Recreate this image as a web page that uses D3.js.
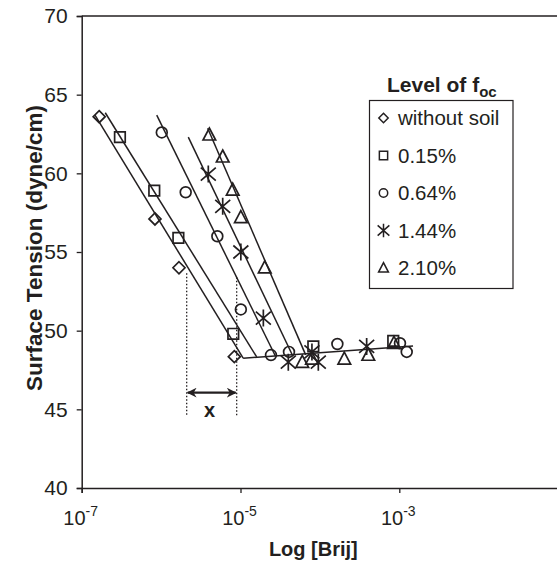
<!DOCTYPE html>
<html><head><meta charset="utf-8">
<script src="https://cdn.jsdelivr.net/npm/d3@7"></script>
<style>
html,body{margin:0;padding:0;background:#fff;}
svg{display:block;font-family:"Liberation Sans",Arial,sans-serif;}
</style></head>
<body>
<svg id="chart" width="557" height="565"></svg>
<script>
// ---- data (concentration [Brij], surface tension dyne/cm) ----
const seriesNames = ["without soil", "0.15%", "0.64%", "1.44%", "2.10%"];
const seriesShapes = ["diamond", "square", "circle", "star", "triangle"];

const noSoilX = [1.66e-7, 8.37e-7, 1.68e-6, 8.36e-6];
const noSoilY = [63.6, 57.1, 54.0, 48.35];

const oc015X = [3.03e-7, 8.20e-7, 1.65e-6, 8.11e-6, 8.26e-5, 8.39e-4];
const oc015Y = [62.3, 58.9, 55.9, 49.8, 49.0, 49.35];

const oc064X = [1.02e-6, 2.04e-6, 5.11e-6, 1.01e-5, 2.42e-5, 4.08e-5, 1.66e-4, 1.02e-3, 1.24e-3];
const oc064Y = [62.6, 58.8, 56.0, 51.35, 48.45, 48.65, 49.15, 49.2, 48.65];

const oc144X = [3.93e-6, 5.97e-6, 1.01e-5, 1.94e-5, 4.00e-5, 7.94e-5, 9.55e-5, 3.88e-4];
const oc144Y = [59.95, 57.9, 55.0, 50.8, 48.0, 48.65, 48.0, 49.0];

const oc210X = [4.05e-6, 5.97e-6, 7.98e-6, 1.01e-5, 2.02e-5, 6.00e-5, 7.94e-5, 2.03e-4, 4.07e-4, 8.57e-4];
const oc210Y = [62.45, 61.05, 58.95, 57.2, 54.0, 48.0, 48.2, 48.2, 48.45, 49.2];

// fitted trend lines: [x1, y1, x2, y2]
const fitNoSoil = [1.47e-7, 63.7, 1.08e-5, 48.25];
const fit015    = [1.98e-7, 63.85, 1.60e-5, 48.33];
const fit064    = [8.81e-7, 63.7, 2.75e-5, 48.39];
const fit144    = [2.20e-6, 62.3, 4.53e-5, 48.42];
const fit210    = [3.86e-6, 62.87, 6.62e-5, 48.46];
const fitPlateau = [1.08e-5, 48.25, 1.49e-3, 49.03];

// annotation "x": two dotted guides and a double arrow
const guideX = [2.10e-6, 8.95e-6];
const guideTop = [53.65, 53.4];
const guideBottom = 44.6;
const arrowY = 46.06;

const xTickExps = [-7, -5, -3];
const yTicks = [40, 45, 50, 55, 60, 65, 70];

// ---- drawing ----
const ink = "#231f20";
const svg = d3.select("#chart");
const x = d3.scaleLog().domain([1e-7, 1e-1]).range([81.7, 558.1]);
const y = d3.scaleLinear().domain([40, 70]).range([488, 16]);

// frame top line
svg.append("line").attr("x1", x.range()[0]).attr("x2", x.range()[1])
  .attr("y1", y(70)).attr("y2", y(70)).attr("stroke", ink).attr("stroke-width", 1.5);

// y axis
const yAxis = svg.append("g").attr("transform", `translate(${x.range()[0]},0)`)
  .call(d3.axisLeft(y).tickValues(yTicks).tickSizeOuter(0).tickSize(5).tickPadding(9));
yAxis.select(".domain").attr("stroke", ink).attr("stroke-width", 1.5);
yAxis.selectAll(".tick line").attr("stroke", ink).attr("stroke-width", 1.3);
yAxis.selectAll(".tick text").attr("font-size", 21).attr("fill", ink)
  .attr("font-family", "Liberation Sans, Arial, sans-serif");

// x axis
const xAxis = svg.append("g").attr("transform", `translate(0,${y(40)})`)
  .call(d3.axisBottom(x).tickValues(xTickExps.map(e => Math.pow(10, e))).tickSizeOuter(0).tickSize(5).tickFormat(""));
xAxis.select(".domain").attr("stroke", ink).attr("stroke-width", 1.5);
xAxis.selectAll(".tick line").attr("stroke", ink).attr("stroke-width", 1.3);
const xl = svg.append("g");
xTickExps.forEach(e => {
  const t = xl.append("text").attr("x", x(Math.pow(10, e)) - 1).attr("y", 525)
    .attr("text-anchor", "middle").attr("font-size", 20).attr("fill", ink);
  t.append("tspan").text("10");
  t.append("tspan").attr("dy", -9).attr("font-size", 14).text(String(e));
});

// axis titles
svg.append("text").attr("x", (81.7 + 557) / 2 - 6).attr("y", 556).attr("text-anchor", "middle")
  .attr("font-size", 20).attr("font-weight", "bold").attr("fill", ink).text("Log [Brij]");
svg.append("text").attr("transform", `translate(42,248) rotate(-90)`).attr("text-anchor", "middle")
  .attr("font-size", 22.5).attr("font-weight", "bold").attr("fill", ink).text("Surface Tension (dyne/cm)");

// markers
function shapePath(shape, s) {
  const p = d3.path();
  if (shape === "diamond") { p.moveTo(0, -6 * s); p.lineTo(6 * s, 0); p.lineTo(0, 6 * s); p.lineTo(-6 * s, 0); p.closePath(); }
  else if (shape === "square") { p.rect(-5.3 * s, -5.3 * s, 10.6 * s, 10.6 * s); }
  else if (shape === "circle") { p.moveTo(5.4 * s, 0); p.arc(0, 0, 5.4 * s, 0, 2 * Math.PI); }
  else if (shape === "triangle") { p.moveTo(0, -6.8 * s); p.lineTo(6.3 * s, 5.2 * s); p.lineTo(-6.3 * s, 5.2 * s); p.closePath(); }
  else if (shape === "star") {
    p.moveTo(0, -8.5 * s); p.lineTo(0, 8.5 * s);
    p.moveTo(-7.5 * s, -6.5 * s); p.lineTo(7.5 * s, 6.5 * s);
    p.moveTo(-7.5 * s, 6.5 * s); p.lineTo(7.5 * s, -6.5 * s);
  }
  return p.toString();
}

// trend lines
const fits = [fitNoSoil, fit015, fit064, fit144, fit210, fitPlateau];
svg.append("g").selectAll("line").data(fits).join("line")
  .attr("x1", d => x(d[0])).attr("y1", d => y(d[1]))
  .attr("x2", d => x(d[2])).attr("y2", d => y(d[3]))
  .attr("stroke", ink).attr("stroke-width", 1.5);

const series = [
  [noSoilX, noSoilY], [oc015X, oc015Y], [oc064X, oc064Y], [oc144X, oc144Y], [oc210X, oc210Y]
];
series.forEach((sr, i) => {
  const pts = sr[0].map((v, j) => [v, sr[1][j]]);
  svg.append("g").selectAll("path").data(pts).join("path")
    .attr("transform", d => `translate(${x(d[0])},${y(d[1])})`)
    .attr("d", shapePath(seriesShapes[i], 1))
    .attr("fill", "none").attr("stroke", ink).attr("stroke-width", 1.7);
});

// annotation guides
guideX.forEach((gx, i) => {
  svg.append("line").attr("x1", x(gx)).attr("x2", x(gx))
    .attr("y1", y(guideTop[i])).attr("y2", y(guideBottom))
    .attr("stroke", ink).attr("stroke-width", 1.3).attr("stroke-dasharray", "1.5,2");
});
const defs = svg.append("defs");
defs.append("marker").attr("id", "ah").attr("viewBox", "0 0 10 10").attr("refX", 9).attr("refY", 5)
  .attr("markerWidth", 4.5).attr("markerHeight", 4.5).attr("orient", "auto-start-reverse")
  .append("path").attr("d", "M0,0 L10,5 L0,10 L3,5 Z").attr("fill", ink);
svg.append("line").attr("x1", x(guideX[0]) + 1).attr("x2", x(guideX[1]) - 1)
  .attr("y1", y(arrowY)).attr("y2", y(arrowY))
  .attr("stroke", ink).attr("stroke-width", 2.2)
  .attr("marker-start", "url(#ah)").attr("marker-end", "url(#ah)");
svg.append("text").attr("x", (x(guideX[0]) + x(guideX[1])) / 2 - 2).attr("y", y(arrowY) + 24)
  .attr("text-anchor", "middle").attr("font-size", 20).attr("font-weight", "bold").attr("fill", ink).text("x");

// legend
const lg = svg.append("g");
const title = lg.append("text").attr("x", 387).attr("y", 92).attr("font-size", 21)
  .attr("font-weight", "bold").attr("fill", ink);
title.append("tspan").text("Level of f");
title.append("tspan").attr("dy", 5).attr("font-size", 15).text("oc");
lg.append("rect").attr("x", 369.5).attr("y", 100.5).attr("width", 143.5).attr("height", 188)
  .attr("fill", "#fff").attr("stroke", ink).attr("stroke-width", 1.2);
seriesNames.forEach((n, i) => {
  const by = 125 + i * 37.5;
  lg.append("path").attr("transform", `translate(383.5,${by - 7})`)
    .attr("d", shapePath(seriesShapes[i], 0.78)).attr("fill", "none").attr("stroke", ink).attr("stroke-width", 1.5);
  lg.append("text").attr("x", 398).attr("y", by).attr("font-size", 20.5).attr("fill", ink).text(n);
});
</script>
</body></html>
